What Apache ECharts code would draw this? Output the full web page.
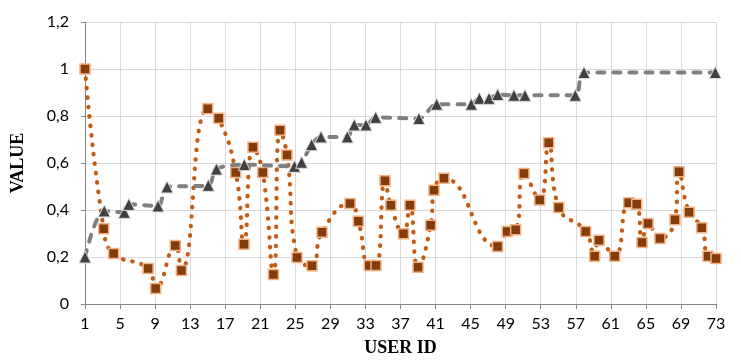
<!DOCTYPE html>
<html>
<head>
<meta charset="utf-8">
<script src="https://cdn.jsdelivr.net/npm/echarts@6/dist/echarts.min.js"></script>
<style>
html,body{margin:0;padding:0;background:#fff;}
#chart{width:741px;height:364px;}
</style>
</head>
<body>
<div id="chart"></div>
<script>
// User IDs and values
const orangeIds = [1, 3.13, 4.27, 8.2, 9.06, 11.3, 12.0, 15.0, 16.26, 18.2,
  19.14, 20.17, 21.28, 22.5, 23.25, 24.05, 25.19, 26.9, 28.04, 31.24,
  32.19, 33.44, 34.2, 35.23, 35.9, 37.34, 38.08, 39.0, 40.44, 40.82,
  41.96, 48.08, 49.18, 50.14, 51.09, 52.88, 53.91, 55.05, 58.13, 59.15,
  59.65, 61.44, 63.04, 63.95, 64.56, 65.24, 66.6, 68.32, 68.78, 69.93,
  71.37, 72.09, 73.0];
const orangeValues = [1.0, 0.32, 0.215, 0.151, 0.066, 0.249, 0.143, 0.831, 0.79, 0.56,
  0.254, 0.667, 0.56, 0.126, 0.739, 0.634, 0.198, 0.163, 0.305, 0.428,
  0.352, 0.164, 0.164, 0.525, 0.42, 0.299, 0.42, 0.156, 0.335, 0.484,
  0.535, 0.245, 0.309, 0.316, 0.555, 0.443, 0.686, 0.411, 0.309, 0.203,
  0.271, 0.203, 0.431, 0.424, 0.262, 0.343, 0.279, 0.359, 0.563, 0.39,
  0.325, 0.203, 0.194];
const grayIds = [1, 3.2, 5.49, 6.0, 9.33, 10.36, 15.07, 16.0, 19.18, 24.9,
  25.72, 26.86, 27.93, 30.93, 31.73, 33.06, 34.17, 39.1, 41.13, 45.08,
  46.0, 47.1, 48.09, 49.95, 51.2, 56.94, 57.94, 72.92];
const grayValues = [0.2, 0.396, 0.39, 0.424, 0.417, 0.498, 0.505, 0.574, 0.593, 0.586,
  0.603, 0.678, 0.711, 0.711, 0.762, 0.762, 0.794, 0.789, 0.85, 0.85,
  0.875, 0.875, 0.891, 0.888, 0.888, 0.888, 0.985, 0.985];
const xFirstId = 1, xLastId = 73, xStep = 4;
const yMin = 0, yMax = 1.2, yStep = 0.2;

// axis runs from 0 (= user id 1) so ticks fall on 1,5,9,...
const pts = (ids, vals) => ids.map((id, i) => [id - xFirstId, vals[i]]);

const chart = echarts.init(document.getElementById('chart'), null, {renderer: 'canvas'});
const labelFont = {color: '#000', fontSize: 16, fontFamily: 'Lato, "Liberation Sans", sans-serif'};
const nameFont = {color: '#000', fontSize: 18, fontWeight: 'bold', fontFamily: '"Liberation Serif", "DejaVu Serif", serif'};

chart.setOption({
  animation: false,
  backgroundColor: '#fff',
  grid: {left: 85, right: 25, top: 22, bottom: 60, containLabel: false},
  xAxis: {
    type: 'value',
    min: 0, max: xLastId - xFirstId, interval: xStep,
    name: 'USER ID', nameLocation: 'middle', nameGap: 35, nameTextStyle: nameFont,
    axisLine: {show: true, lineStyle: {color: '#868686', width: 1}},
    axisTick: {show: true, length: 5, lineStyle: {color: '#868686'}},
    axisLabel: Object.assign({margin: 12, formatter: v => String(v + xFirstId)}, labelFont),
    splitLine: {show: true, lineStyle: {color: '#d9d9d9', width: 1}}
  },
  yAxis: {
    type: 'value',
    min: yMin, max: yMax, interval: yStep,
    name: 'VALUE', nameLocation: 'middle', nameGap: 58, nameTextStyle: nameFont,
    axisLine: {show: true, lineStyle: {color: '#868686', width: 1}},
    axisTick: {show: true, length: 4, lineStyle: {color: '#868686'}},
    axisLabel: Object.assign({margin: 16, formatter: v => String(Math.round(v * 10) / 10).replace('.', ',')}, labelFont),
    splitLine: {show: true, lineStyle: {color: '#d9d9d9', width: 1}}
  },
  series: [
    {
      type: 'line',
      data: pts(orangeIds, orangeValues),
      smooth: 0.5,
      symbol: 'rect', symbolSize: 10,
      itemStyle: {color: '#843c0c', borderColor: '#f4b183', borderWidth: 1.5},
      lineStyle: {color: '#c55a11', width: 4.2, type: [0.5, 9], cap: 'round'},
      z: 2
    },
    {
      type: 'line',
      data: pts(grayIds, grayValues),
      smooth: 0.3,
      symbol: 'triangle', symbolSize: 12,
      itemStyle: {color: '#404040', borderColor: '#d9d9d9', borderWidth: 1},
      lineStyle: {color: '#7f7f7f', width: 4, type: [7, 9], cap: 'round'},
      z: 3
    }
  ]
});
</script>
</body>
</html>
